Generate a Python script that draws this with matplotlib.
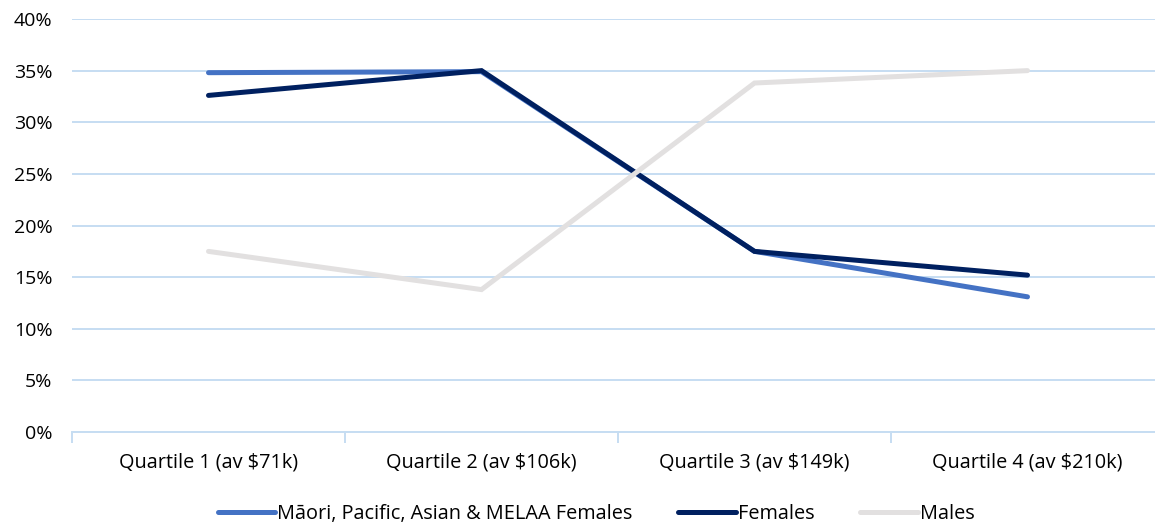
import matplotlib.pyplot as plt
from matplotlib.ticker import FuncFormatter, FixedLocator

categorias = ['Quartile 1 (av $71k)', 'Quartile 2 (av $106k)',
              'Quartile 3 (av $149k)', 'Quartile 4 (av $210k)']
maori_pacific = [34.8, 34.9, 17.5, 13.1]
females = [32.6, 35.0, 17.5, 15.2]
males = [17.5, 13.8, 33.8, 35.0]

series = [
    ('Māori, Pacific, Asian & MELAA Females', maori_pacific, '#4472C4'),
    ('Females', females, '#002060'),
    ('Males', males, '#E2E0E0'),
]

plt.rcParams['font.family'] = ['Open Sans', 'DejaVu Sans']

fig = plt.figure(figsize=(11.55, 5.27), dpi=100)
ax = fig.add_axes([72 / 1155, 0.18, 1092 / 1155, 0.784])

x = list(range(len(categorias)))
for nombre, valores, color in series:
    ax.plot(x, valores, color=color, lw=3.6, solid_capstyle='round',
            solid_joinstyle='miter', label=nombre)

ax.set_xlim(-0.5, len(categorias) - 0.5)
ax.set_ylim(0, 40)
ax.set_yticks(range(0, 41, 5))
ax.yaxis.set_major_formatter(FuncFormatter(lambda v, p: f'{v:.0f}%'))
ax.grid(axis='y', color='#C6DDF2', lw=1.4)
ax.set_axisbelow(True)

ax.set_xticks(x)
ax.set_xticklabels(categorias)
ax.xaxis.set_minor_locator(FixedLocator([i - 0.5 for i in range(len(categorias) + 1)]))
ax.tick_params(axis='x', which='major', length=0, pad=15, labelsize=14.3, colors='#000000')
ax.tick_params(axis='x', which='minor', length=8, width=1.4, color='#C6DDF2')
ax.tick_params(axis='y', length=0, pad=14, labelsize=14)

for s in ['top', 'right', 'left']:
    ax.spines[s].set_visible(False)
ax.spines['bottom'].set_color('#C6DDF2')
ax.spines['bottom'].set_linewidth(1.4)

ax.legend(loc='upper center', bbox_to_anchor=(0.48, -0.13), ncol=3, frameon=False,
          fontsize=14.3, handlelength=2.9, handletextpad=0.1, columnspacing=2.3)

fig.savefig('out.png', dpi=100)
